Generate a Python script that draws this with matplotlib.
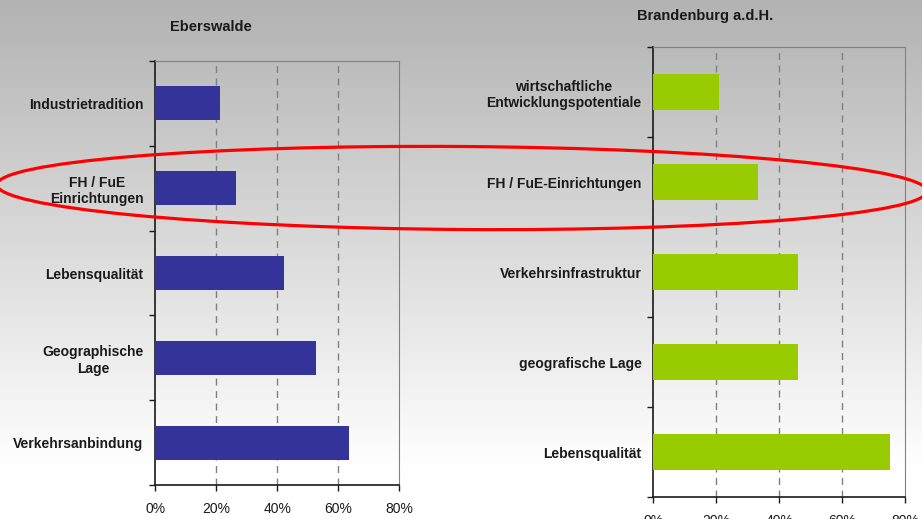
import numpy as np
import matplotlib
matplotlib.use("Agg")
import matplotlib.pyplot as plt
from matplotlib.patches import Ellipse
from matplotlib.ticker import FixedLocator, PercentFormatter

plt.rcParams['font.family'] = ['Liberation Sans', 'DejaVu Sans']

# ---- data ----
left_title = "Eberswalde"
left_categories = ["Industrietradition", "FH / FuE\nEinrichtungen", "Lebensqualität",
                   "Geographische\nLage", "Verkehrsanbindung"]
left_values = [21.1, 26.5, 42.2, 52.8, 63.6]

right_title = "Brandenburg a.d.H."
right_categories = ["wirtschaftliche\nEntwicklungspotentiale", "FH / FuE-Einrichtungen",
                    "Verkehrsinfrastruktur", "geografische Lage", "Lebensqualität"]
right_values = [20.7, 33.1, 45.8, 45.8, 75.1]

x_ticks = [0, 20, 40, 60, 80]

W, H = 922, 519
fig = plt.figure(figsize=(W / 100, H / 100), dpi=100)

# gradient background
bg = fig.add_axes([0, 0, 1, 1], zorder=-10)
grad = np.linspace(0, 1, 256).reshape(-1, 1)
top_c = np.array([0.70, 0.70, 0.70])
bot_c = np.array([1.0, 1.0, 1.0])
t = np.clip(grad / 0.9, 0, 1)
img = (top_c + (bot_c - top_c) * t).reshape(256, 1, 3)
bg.imshow(img, aspect='auto', extent=[0, 1, 0, 1], origin='upper')
bg.set_axis_off()


def draw_panel(rect, cats, vals, color, title, title_xy):
    ax = fig.add_axes(rect)
    ax.set_facecolor('none')
    n = len(cats)
    pos = np.arange(n)
    ax.barh(pos, vals, height=0.4, color=color, zorder=3)
    ax.set_ylim(n - 0.5, -0.5)
    ax.set_xlim(0, 80)
    ax.set_yticks(pos)
    ax.set_yticklabels(cats, fontsize=10, fontweight='bold', color='#1a1a1a',
                       multialignment='center')
    ax.yaxis.set_minor_locator(FixedLocator(np.arange(-0.5, n, 1.0)))
    ax.tick_params(axis='y', which='major', length=0, pad=8.5)
    ax.tick_params(axis='y', which='minor', length=4, width=1, color='#1a1a1a')
    ax.xaxis.set_major_locator(FixedLocator(x_ticks))
    ax.xaxis.set_major_formatter(PercentFormatter(decimals=0))
    ax.tick_params(axis='x', which='major', length=4, width=1, color='#1a1a1a',
                   labelsize=10, labelcolor='#1a1a1a', pad=8)
    for x in x_ticks[1:-1]:
        ax.axvline(x, color='#808080', linestyle=(0, (5, 4)), linewidth=1, zorder=1)
    ax.spines['left'].set_color('#1a1a1a')
    ax.spines['bottom'].set_color('#1a1a1a')
    ax.spines['left'].set_linewidth(1.2)
    ax.spines['bottom'].set_linewidth(1.2)
    ax.spines['top'].set_color('#808080')
    ax.spines['right'].set_color('#808080')
    fig.text(title_xy[0], title_xy[1], title, ha='center', va='center',
             fontsize=10.5, fontweight='bold', color='#1a1a1a')
    return ax


draw_panel([155.3 / W, (H - 485) / H, 243.7 / W, 424 / H],
           left_categories, left_values, '#333399', left_title,
           (211 / W, (H - 27) / H))
draw_panel([653.3 / W, (H - 497.3) / H, 252 / W, 450.3 / H],
           right_categories, right_values, '#99CC00', right_title,
           (705 / W, (H - 16) / H))

# red ellipse overlay
ov = fig.add_axes([0, 0, 1, 1], zorder=10)
ov.set_xlim(0, W)
ov.set_ylim(0, H)
ov.set_axis_off()
ov.patch.set_alpha(0)
ov.add_patch(Ellipse((462, H - 188), 930, 83, angle=-0.4, fill=False,
                     edgecolor='#ff0000', linewidth=2.3))

fig.savefig('out.png', dpi=100)
